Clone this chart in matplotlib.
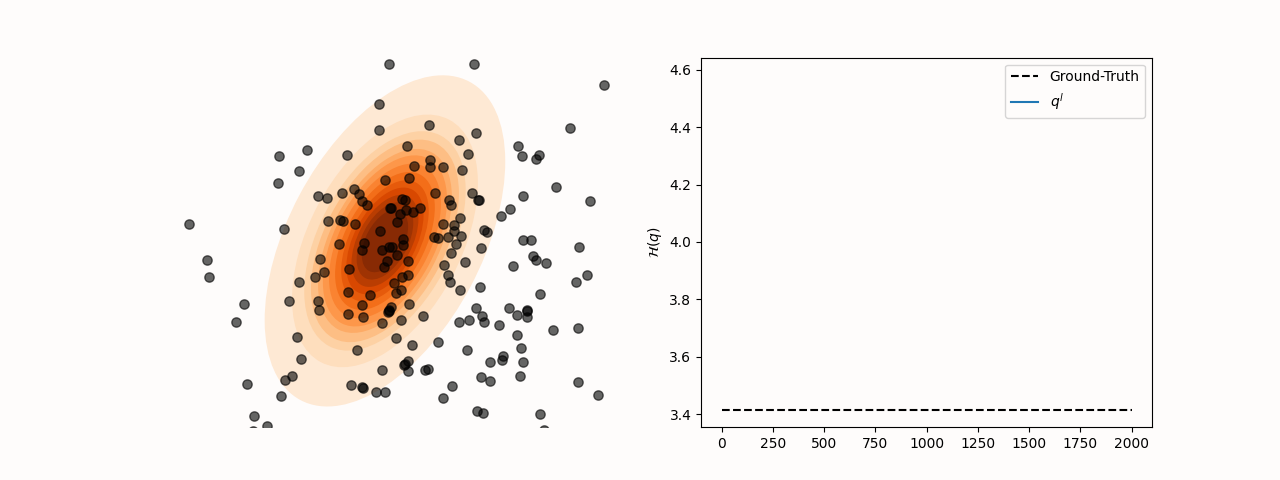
import numpy as np
import matplotlib
matplotlib.use("Agg")
import matplotlib.pyplot as plt
from matplotlib.patches import Ellipse

BG = "#fefcfb"

# Samples (left panel has no axis, so units are pixels)
sample_x = [389, 379, 379, 307, 279, 347, 299, 278, 354, 359, 362, 367, 342, 318, 327, 385, 390,
            328, 340, 343, 355, 380, 189, 284, 474, 604, 429, 476, 570, 459, 518, 522, 539, 536,
            468, 407, 430, 430, 414, 443, 462, 409, 556, 523, 590, 472, 478, 479, 435, 449, 451,
            402, 405, 391, 406, 413, 420, 400, 397, 460, 443, 454, 454, 510, 501, 484, 487, 434,
            438, 448, 461, 403, 523, 531, 207, 209, 339, 364, 362, 382, 389, 320, 324, 315, 299,
            349, 387, 384, 244, 236, 289, 318, 319, 348, 370, 362, 348, 363, 382, 389, 388, 297,
            357, 301, 292, 285, 247, 281, 382, 351, 362, 363, 376, 385, 254, 267, 253, 579, 403,
            392, 397, 408, 456, 481, 451, 465, 444, 448, 450, 460, 480, 513, 533, 536, 546, 587,
            576, 540, 408, 402, 394, 396, 401, 409, 391, 389, 401, 423, 396, 412, 438, 476, 482,
            484, 469, 459, 509, 517, 527, 527, 527, 499, 517, 553, 578, 521, 467, 503, 502, 523,
            490, 408, 404, 405, 408, 428, 425, 481, 490, 520, 578, 598, 452, 443, 477, 483, 540,
            544]
sample_y = [64, 104, 130, 150, 156, 155, 171, 183, 189, 194, 201, 205, 193, 196, 198, 180, 208,
            221, 220, 221, 224, 231, 224, 229, 64, 85, 125, 133, 128, 140, 146, 156, 155, 159,
            154, 146, 160, 167, 166, 167, 170, 178, 187, 196, 201, 193, 200, 200, 193, 200, 205,
            199, 200, 208, 210, 212, 208, 214, 222, 218, 224, 225, 231, 209, 216, 230, 232, 237,
            238, 237, 236, 239, 240, 240, 260, 277, 244, 243, 250, 250, 247, 259, 272, 277, 282,
            269, 261, 267, 304, 322, 301, 301, 310, 292, 295, 305, 314, 317, 323, 310, 312, 337,
            350, 359, 376, 380, 384, 396, 370, 385, 387, 388, 392, 392, 416, 426, 431, 247, 245,
            247, 255, 261, 244, 248, 253, 262, 265, 275, 282, 290, 287, 266, 256, 260, 263, 275,
            282, 294, 275, 277, 283, 293, 290, 304, 307, 311, 320, 316, 338, 345, 342, 308, 316,
            322, 320, 322, 308, 315, 311, 317, 310, 325, 335, 330, 328, 348, 350, 356, 360, 362,
            362, 361, 365, 364, 371, 369, 370, 377, 381, 376, 382, 395, 386, 398, 411, 413, 414,
            430]

# Density bands, outermost first: semi-axes of each level outline
band_center = (385, 241)
band_tilt = -62
band_major = [180, 137, 119, 110, 100, 93, 84, 75, 66, 58, 50, 42, 34]
band_minor = [97, 76, 66, 60, 54, 50, 45, 40, 35, 31, 27, 23, 19]

# Right panel
steps = [0, 2000]
ground_truth = [3.414, 3.414]
x_ticks = [0, 250, 500, 750, 1000, 1250, 1500, 1750, 2000]
y_ticks = [3.4, 3.6, 3.8, 4.0, 4.2, 4.4, 4.6]

fig, (ax1, ax2) = plt.subplots(1, 2, figsize=(12.8, 4.8), dpi=100, facecolor=BG)

ax1.set_xlim(160, 611)
ax1.set_ylim(427, 58)
ax1.axis("off")
band_colors = plt.cm.Oranges(np.linspace(0.1, 0.97, len(band_major)))
for major, minor, color in zip(band_major, band_minor, band_colors):
    ax1.add_patch(Ellipse(band_center, 2 * major, 2 * minor, angle=band_tilt,
                          facecolor=color, edgecolor="none", zorder=1))
ax1.scatter(sample_x, sample_y, s=45, c="k", alpha=0.6, zorder=2)

ax2.set_facecolor(BG)
ax2.plot(steps, ground_truth, "k--", label="Ground-Truth")
ax2.plot([], [], color="tab:blue", label="$q^l$")
ax2.set_xlim(-100, 2100)
ax2.set_ylim(3.355, 4.642)
ax2.set_xticks(x_ticks)
ax2.set_yticks(y_ticks)
ax2.set_ylabel(r"$\mathcal{H}(q)$")
ax2.legend(loc="upper right", facecolor=BG)

fig.savefig("out.png", dpi=100, facecolor=BG)
